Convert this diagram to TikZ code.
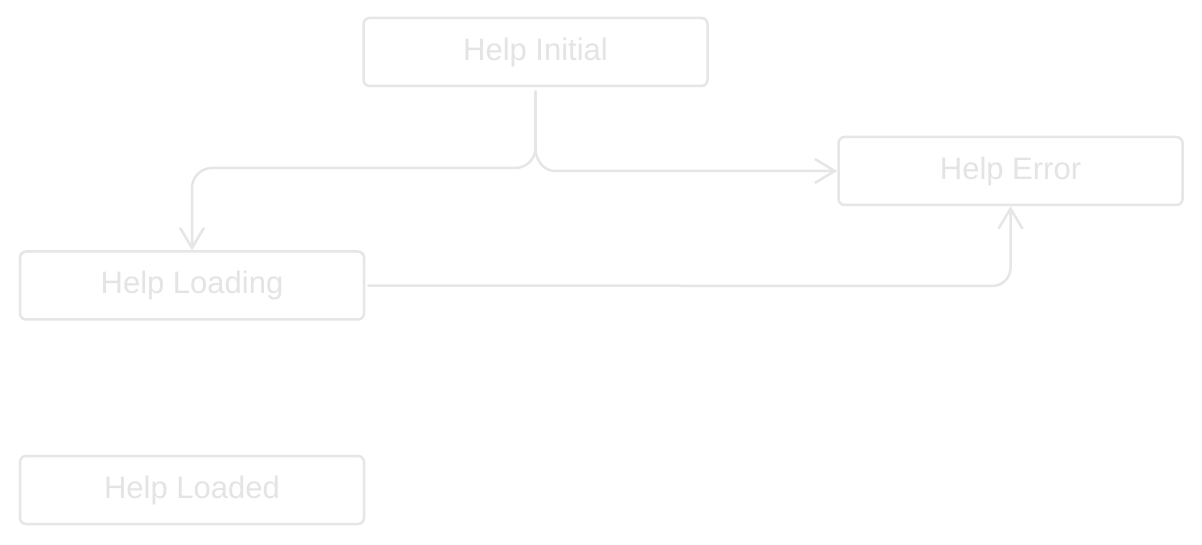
\documentclass[tikz,border=0pt]{standalone}
\usepackage{fontspec}
\setmainfont{Liberation Sans}
\usetikzlibrary{arrows.meta}
\definecolor{lineC}{RGB}{230,230,230}
\definecolor{textC}{RGB}{228,228,228}
\tikzset{
  state/.style={draw=lineC, line width=2.5pt, rounded corners=6pt, minimum width=344pt, minimum height=68pt, text=textC, font=\fontsize{31}{35}\selectfont, inner sep=0pt},
  conn/.style={draw=lineC, line width=2.5pt, line cap=round},
  arr/.style={conn, -{Straight Barb[length=20pt,width=24pt,line width=2.5pt]}}
}
\begin{document}
\begin{tikzpicture}[x=1pt,y=-1pt]
\useasboundingbox[fill=white] (0,0) rectangle (1202,545);
\node[state] (ini) at (535.5,52) {Help Initial};
\node[state] (err) at (1010.5,171) {Help Error};
\node[state] (load) at (192,285.5) {Help Loading};
\node[state] (done) at (192,490) {Help Loaded};
\coordinate (br) at (535.5,148);
\draw[conn] ([yshift=-4pt]ini.south) -- (br);
\draw[arr] (br) to[out=-90,in=0] (515,168) -- (212,168) to[out=180,in=90] (192,188) -- (load.north);
\draw[arr] (br) to[out=-90,in=180] (555,171) -- (err.west);
\draw[arr] ([xshift=3pt]load.east) -- (992,286) to[out=0,in=-90] (1010.5,268) -- (err.south);
\end{tikzpicture}
\end{document}
